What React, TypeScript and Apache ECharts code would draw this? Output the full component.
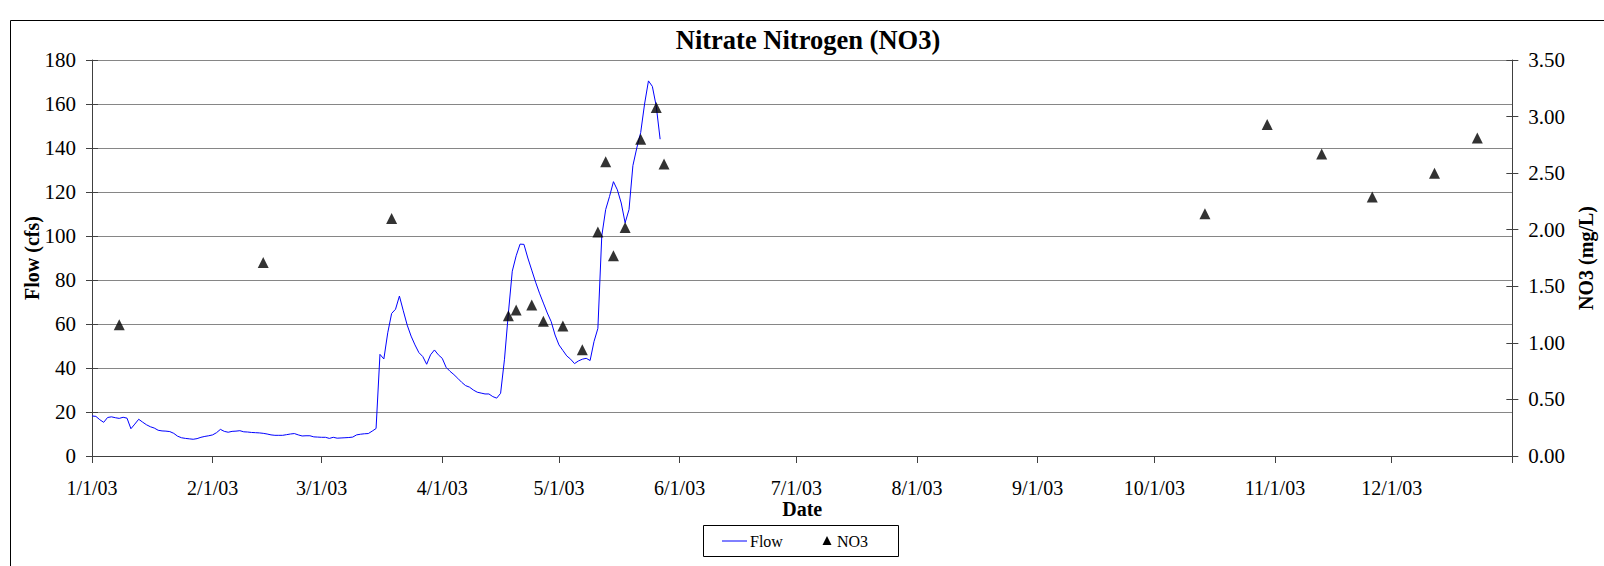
import React, { useEffect, useRef } from "react";
import * as echarts from "echarts";

const FONT = "'Liberation Serif', 'Times New Roman', serif";

// Daily flow (cfs) starting 1/1/03
const flowStart = "2003-01-01";
const flowValues = [
  18.2, 18.0, 16.5, 15.3, 17.5, 17.8, 17.4, 17.1, 17.6, 17.2,
  12.4, 14.5, 16.7, 15.4, 14.2, 13.3, 12.7, 11.7, 11.4, 11.3,
  11.1, 10.3, 9.0, 8.3, 8.0, 7.8, 7.6, 7.9, 8.5, 8.9,
  9.2, 9.6, 10.6, 12.1, 11.2, 10.8, 11.2, 11.3, 11.5, 11.0,
  10.9, 10.7, 10.6, 10.5, 10.3, 10.0, 9.6, 9.4, 9.4, 9.4,
  9.7, 10.0, 10.2, 9.6, 9.1, 9.2, 9.2, 8.7, 8.6, 8.5,
  8.5, 8.0, 8.5, 8.1, 8.2, 8.3, 8.4, 8.6, 9.6, 9.9,
  10.1, 10.2, 11.3, 12.5, 46.2, 44.1, 56.0, 64.8, 66.7, 72.7,
  66.0, 59.5, 54.5, 50.5, 47.0, 45.2, 41.7, 46.0, 48.2, 46.0,
  44.4, 40.3, 38.5, 37.0, 35.3, 33.5, 32.0, 31.3, 30.0, 29.0,
  28.6, 28.2, 28.2, 27.0, 26.3, 28.5, 44.0, 65.0, 84.0, 91.0,
  96.3, 96.2, 90.0, 84.5, 79.0, 74.0, 69.5, 65.0, 61.1, 55.0,
  50.5, 48.0, 45.5, 44.0, 42.0, 43.2, 44.0, 44.4, 43.4, 52.0,
  58.0, 100.0, 112.0, 118.0, 124.7, 121.0, 115.0, 106.0, 112.0, 132.0,
  140.0, 147.0, 160.0, 170.5, 168.0, 159.0, 144.0,
];

// NO3 samples (mg/L)
const no3Dates = [
  "2003-01-08", "2003-02-14", "2003-03-19", "2003-04-18", "2003-04-20",
  "2003-04-24", "2003-04-27", "2003-05-02", "2003-05-07", "2003-05-11",
  "2003-05-13", "2003-05-15", "2003-05-18", "2003-05-22", "2003-05-26",
  "2003-05-28", "2003-10-14", "2003-10-30", "2003-11-13", "2003-11-26",
  "2003-12-12", "2003-12-23",
];
const no3Values = [
  1.16, 1.71, 2.1, 1.24, 1.29,
  1.335, 1.19, 1.15, 0.94, 1.98,
  2.6, 1.77, 2.02, 2.8, 3.08,
  2.58, 2.14, 2.93, 2.67, 2.29,
  2.5, 2.81,
];

// Axis ticks
const tickDates = [
  "2003-01-01", "2003-02-01", "2003-03-01", "2003-04-01", "2003-05-01",
  "2003-06-01", "2003-07-01", "2003-08-01", "2003-09-01", "2003-10-01",
  "2003-11-01", "2003-12-01", "2004-01-01",
];
const tickLabels = [
  "1/1/03", "2/1/03", "3/1/03", "4/1/03", "5/1/03", "6/1/03",
  "7/1/03", "8/1/03", "9/1/03", "10/1/03", "11/1/03", "12/1/03",
];

const START = Date.UTC(2003, 0, 1);
function dayOf(iso: string): number {
  const [y, m, d] = iso.split("-").map(Number);
  return Math.round((Date.UTC(y, m - 1, d) - START) / 86400000);
}

export default function App() {
  const ref = useRef<HTMLDivElement>(null);

  useEffect(() => {
    document.body.style.margin = "0";
    if (!ref.current) return;
    const chart = echarts.init(ref.current, undefined, { renderer: "svg" });

    const d0 = dayOf(flowStart);
    const flowData = flowValues.map((v, i) => [d0 + i, v]);
    const no3Data = no3Dates.map((d, i) => [dayOf(d), no3Values[i]]);
    const tickVals = tickDates.map(dayOf);
    const labelVals = tickVals.slice(0, tickLabels.length);
    const labelMap: Record<number, string> = {};
    labelVals.forEach((v, i) => (labelMap[v] = tickLabels[i]));

    const axisColor = "#404040";
    const gridColor = "#868686";
    const labelStyle = { fontFamily: FONT, fontSize: 21, color: "#000" };
    const nameStyle = { fontFamily: FONT, fontSize: 20, fontWeight: "bold" as const, color: "#000" };

    chart.setOption({
      animation: false,
      backgroundColor: "#fff",
      title: {
        text: "Nitrate Nitrogen (NO3)",
        left: 808,
        top: 26,
        textAlign: "center",
        padding: 0,
        textStyle: { fontFamily: FONT, fontSize: 26.5, fontWeight: "bold", color: "#000" },
      },
      grid: { left: 92, right: 89, top: 60, bottom: 110, containLabel: false },
      xAxis: {
        type: "value",
        min: 0,
        max: tickVals[tickVals.length - 1],
        name: "Date",
        nameLocation: "middle",
        nameGap: 45,
        nameMoveOverlap: false,
        nameTextStyle: { ...nameStyle, lineHeight: 16 },
        axisLine: { show: true, onZero: false, lineStyle: { color: axisColor, width: 1 } },
        axisTick: { show: true, length: 7, customValues: tickVals, lineStyle: { color: axisColor } },
        axisLabel: {
          ...labelStyle,
          fontSize: 20,
          lineHeight: 18,
          margin: 23,
          customValues: labelVals,
          formatter: (v: number) => labelMap[Math.round(v)] ?? "",
        },
        splitLine: { show: false },
      },
      yAxis: [
        {
          type: "value",
          position: "left",
          min: 0,
          max: 180,
          interval: 20,
          name: "Flow (cfs)",
          nameLocation: "middle",
          nameRotate: 90,
          nameGap: 50,
          nameMoveOverlap: false,
          nameTextStyle: nameStyle,
          axisLine: { show: true, lineStyle: { color: axisColor, width: 1 } },
          axisTick: { show: true, length: 6, lineStyle: { color: axisColor } },
          axisLabel: { ...labelStyle, margin: 16 },
          splitLine: { show: true, lineStyle: { color: gridColor, width: 1 } },
        },
        {
          type: "value",
          position: "right",
          min: 0,
          max: 3.5,
          interval: 0.5,
          name: "NO3 (mg/L)",
          nameLocation: "middle",
          nameRotate: 90,
          nameGap: 58,
          nameTextStyle: nameStyle,
          axisLine: { show: true, lineStyle: { color: axisColor, width: 1 } },
          axisTick: { show: true, length: 6, lineStyle: { color: axisColor } },
          axisLabel: { ...labelStyle, margin: 16, formatter: (v: number) => v.toFixed(2) },
          splitLine: { show: false },
        },
        {
          type: "value",
          position: "left",
          min: 0,
          max: 180,
          interval: 20,
          axisLine: { show: false },
          axisTick: { show: true, inside: true, length: 6, lineStyle: { color: axisColor } },
          axisLabel: { show: false },
          splitLine: { show: false },
        },
        {
          type: "value",
          position: "right",
          min: 0,
          max: 3.5,
          interval: 0.5,
          axisLine: { show: false },
          axisTick: { show: true, inside: true, length: 6, lineStyle: { color: axisColor } },
          axisLabel: { show: false },
          splitLine: { show: false },
        },
      ],
      series: [
        {
          name: "Flow",
          type: "line",
          yAxisIndex: 0,
          data: flowData,
          showSymbol: false,
          symbol: "none",
          lineStyle: { color: "#0000ff", width: 1 },
          itemStyle: { color: "#0000ff" },
          z: 3,
        },
        {
          name: "NO3",
          type: "scatter",
          yAxisIndex: 1,
          data: no3Data,
          symbol: "triangle",
          symbolSize: 11,
          itemStyle: { color: "#000" },
          z: 4,
        },
      ],
      graphic: [
        {
          type: "rect",
          shape: { x: 10.5, y: 20.5, width: 1700, height: 700 },
          style: { fill: "none", stroke: "#000", lineWidth: 1 },
          silent: true,
          z: -1,
        },
        {
          type: "group",
          children: [
            {
              type: "rect",
              shape: { x: 703.5, y: 525.5, width: 195, height: 31 },
              style: { fill: "#fff", stroke: "#000", lineWidth: 1 },
            },
            {
              type: "line",
              shape: { x1: 722, y1: 541, x2: 747, y2: 541 },
              style: { stroke: "#0000ff", lineWidth: 1 },
            },
            {
              type: "text",
              x: 750,
              y: 541,
              style: { text: "Flow", font: `16px ${FONT}`, fill: "#000", textAlign: "left", textVerticalAlign: "middle" },
            },
            {
              type: "polygon",
              shape: { points: [[827, 536], [831.5, 545], [822.5, 545]] },
              style: { fill: "#000" },
            },
            {
              type: "text",
              x: 837,
              y: 541,
              style: { text: "NO3", font: `16px ${FONT}`, fill: "#000", textAlign: "left", textVerticalAlign: "middle" },
            },
          ],
        },
      ],
    });

    return () => chart.dispose();
  }, []);

  return <div ref={ref} style={{ width: 1604, height: 566 }} />;
}
